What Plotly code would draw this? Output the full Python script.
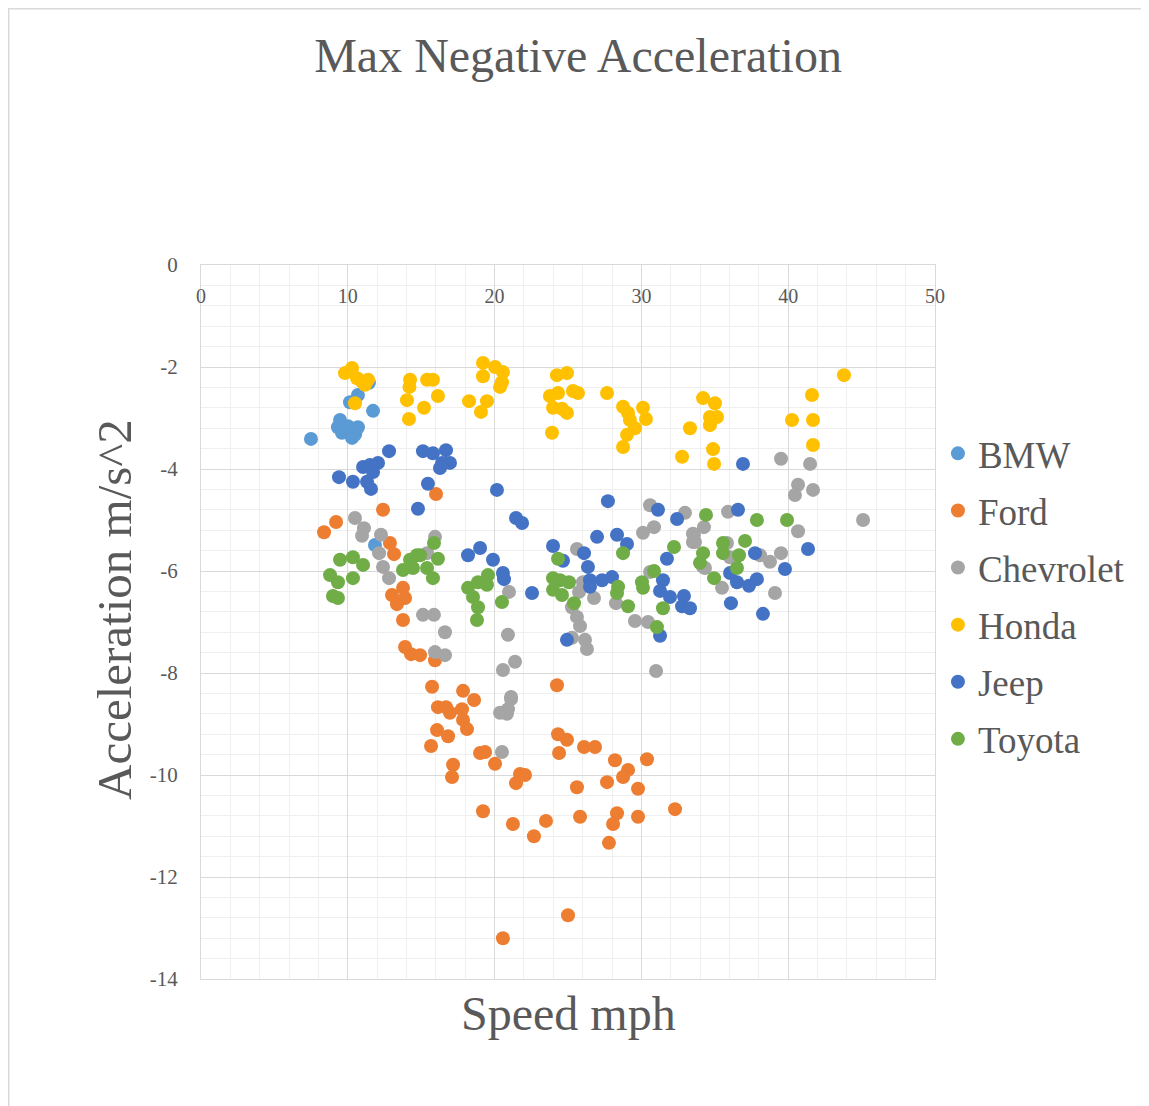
import plotly.graph_objects as go

# ---- Data (speed mph, acceleration m/s^2) ----
bmw_x = [7.49, 9.47, 9.33, 9.60, 9.81, 10.35, 10.69, 10.29, 10.01, 10.15, 10.69, 11.44, 11.72, 11.85, 10.5]
bmw_y = [-3.41, -3.04, -3.18, -3.29, -3.27, -3.24, -3.18, -3.39, -3.16, -2.69, -2.55, -2.31, -2.86, -5.49, -3.32]

ford_x = [8.38, 9.20, 12.40, 16.01, 12.87, 13.15, 13.76, 13.01, 13.90, 13.35, 13.76, 13.90, 14.31, 14.92, 15.94,
          15.74, 17.85, 18.60, 16.14, 16.69, 17.78, 16.96, 17.85, 18.12, 16.08, 16.83, 15.67, 17.17, 17.10,
          19.01, 19.35, 20.03, 21.73, 22.07, 21.46, 24.25, 24.32, 24.93, 24.39, 25.61, 25.82, 19.21, 21.25,
          22.68, 23.50, 25.00, 20.57, 26.09, 26.84, 28.20, 30.38, 29.09, 28.75, 27.66, 29.77, 28.34, 28.07,
          29.77, 32.29, 27.79]
ford_y = [-5.24, -5.04, -4.80, -4.49, -5.45, -5.67, -6.33, -6.47, -6.53, -6.65, -6.96, -7.49, -7.63, -7.65, -7.75,
          -8.27, -8.35, -8.53, -8.67, -8.67, -8.71, -8.78, -8.92, -9.10, -9.12, -9.24, -9.43, -9.80, -10.04,
          -9.57, -9.55, -9.78, -9.98, -10.00, -10.16, -8.24, -9.20, -9.31, -9.57, -10.24, -10.82, -10.71, -10.96,
          -11.20, -10.90, -12.75, -13.20, -9.45, -9.45, -9.71, -9.69, -9.90, -10.04, -10.14, -10.27, -10.75, -10.96,
          -10.82, -10.67, -11.33]

chevrolet_x = [10.49, 11.10, 10.97, 12.26, 12.13, 12.40, 12.81, 15.94, 15.40, 15.12, 15.87, 16.62, 15.94, 16.62,
               20.98, 20.91, 21.39, 20.57, 21.12, 21.12, 20.91, 20.37, 20.84, 20.50,
               25.61, 26.02, 25.75, 26.77, 25.27, 25.61, 25.82, 25.27, 26.16, 26.29, 28.27, 29.56, 30.45,
               30.11, 30.86, 33.51, 33.51, 34.20, 30.59, 31.00, 30.59,
               32.97, 34.26, 33.58, 33.65, 35.90, 35.83, 34.33, 36.04, 38.08, 38.76, 39.51, 35.49, 39.10,
               40.67, 45.10, 39.51, 41.49, 40.67, 40.46, 41.69]
chevrolet_y = [-4.96, -5.16, -5.31, -5.29, -5.65, -5.92, -6.14, -5.33, -5.65, -6.86, -6.86, -7.20, -7.59, -7.65,
               -6.41, -7.25, -7.78, -7.94, -8.47, -8.51, -8.71, -8.78, -8.80, -9.55,
               -5.57, -6.22, -6.41, -6.53, -6.71, -6.90, -7.08, -7.31, -7.35, -7.53, -6.63, -6.98, -7.00,
               -5.25, -5.14, -5.27, -5.43, -5.92, -6.02, -7.96, -4.71,
               -4.86, -5.14, -5.29, -5.43, -4.84, -5.45, -5.94, -5.73, -5.69, -5.82, -5.65, -6.33, -6.43,
               -5.22, -5.00, -3.80, -3.90, -4.31, -4.51, -4.41]

honda_x = [9.81, 10.29, 10.63, 10.97, 11.38, 11.17, 10.49,
           14.24, 14.03, 14.17, 15.19, 15.40, 15.80, 16.14, 14.20,
           19.21, 20.03, 20.57, 19.21, 20.37, 18.26, 19.48, 19.07, 20.50,
           24.25, 24.93, 23.77, 24.32, 25.34, 25.68, 23.98, 24.93, 24.59, 23.91,
           27.66, 28.75, 29.09, 29.22, 29.56, 29.02, 28.75, 30.11, 30.31,
           34.20, 35.01, 34.67, 35.15, 34.67, 33.31, 32.77, 34.88, 34.95,
           41.62, 40.26, 41.69, 41.69, 43.80]
honda_y = [-2.12, -2.02, -2.22, -2.29, -2.25, -2.35, -2.71,
           -2.25, -2.65, -3.02, -2.80, -2.25, -2.25, -2.57, -2.39,
           -1.92, -2.00, -2.10, -2.18, -2.39, -2.67, -2.67, -2.88, -2.30,
           -2.16, -2.12, -2.57, -2.51, -2.47, -2.51, -2.80, -2.90, -2.82, -3.29,
           -2.51, -2.78, -2.90, -3.04, -3.20, -3.33, -3.57, -2.80, -3.02,
           -2.61, -2.71, -2.98, -2.98, -3.14, -3.20, -3.76, -3.61, -3.90,
           -2.55, -3.04, -3.04, -3.53, -2.16]

jeep_x = [12.81, 9.40, 10.35, 11.04, 11.51, 12.06, 11.72, 11.31, 11.58,
          15.12, 15.80, 16.69, 16.96, 16.28, 16.42, 15.46, 14.78,
          20.16, 21.46, 21.87, 18.19, 19.01, 19.89, 20.57, 20.64, 22.55,
          23.98, 24.66, 26.09, 26.36, 26.98, 28.34, 29.02, 26.50, 26.50, 27.32, 28.00, 24.93,
          31.74, 31.47, 31.27, 31.95, 32.90, 32.77, 33.31, 31.27,
          27.72, 31.13, 32.43, 36.92, 36.58,
          37.74, 41.35, 39.78, 36.04, 36.51, 37.33, 37.87, 36.10, 38.28]
jeep_y = [-3.65, -4.16, -4.25, -3.96, -3.92, -3.88, -4.06, -4.25, -4.39,
          -3.65, -3.69, -3.63, -3.88, -3.98, -3.88, -4.29, -4.78,
          -4.41, -4.96, -5.06, -5.69, -5.55, -5.78, -6.04, -6.16, -6.43,
          -5.51, -5.80, -5.65, -5.92, -5.33, -5.29, -5.47, -6.18, -6.31, -6.18, -6.12, -7.35,
          -5.76, -6.18, -6.39, -6.51, -6.49, -6.69, -6.73, -7.27,
          -4.63, -4.80, -4.98, -3.90, -4.80,
          -5.65, -5.57, -5.96, -6.04, -6.22, -6.29, -6.16, -6.63, -6.84]

toyota_x = [9.47, 10.35, 11.04, 10.35, 8.79, 9.33, 8.99, 9.33,
            15.87, 16.14, 14.71, 14.24, 13.76, 15.40, 15.80, 14.44, 14.92,
            18.19, 18.87, 19.55, 19.48, 18.53, 18.87, 20.50, 18.80,
            24.32, 23.98, 24.46, 25.07, 23.98, 24.59, 25.41, 28.41, 28.34, 29.09, 28.75,
            30.04, 30.11, 30.86, 31.47, 31.06, 32.22,
            34.40, 37.87, 39.92, 35.56, 37.06, 34.20, 35.56, 36.65, 33.99, 36.51, 34.95]
toyota_y = [-5.78, -5.73, -5.88, -6.14, -6.08, -6.22, -6.49, -6.53,
            -5.45, -5.76, -5.69, -5.78, -5.98, -5.94, -6.14, -5.94, -5.69,
            -6.33, -6.22, -6.08, -6.27, -6.51, -6.71, -6.61, -6.96,
            -5.76, -6.14, -6.18, -6.22, -6.37, -6.47, -6.63, -6.31, -6.43, -6.69, -5.65,
            -6.22, -6.33, -6.00, -6.73, -7.10, -5.53,
            -4.90, -5.00, -5.00, -5.45, -5.41, -5.65, -5.65, -5.69, -5.84, -5.94, -6.14]

x_ticks = [0, 10, 20, 30, 40, 50]
x_tick_labels = ["0", "10", "20", "30", "40", "50"]
y_ticks = [0, -2, -4, -6, -8, -10, -12, -14]
y_tick_labels = ["0", "-2", "-4", "-6", "-8", "-10", "-12", "-14"]

series = [
    ("BMW", bmw_x, bmw_y, "#5B9BD5"),
    ("Ford", ford_x, ford_y, "#ED7D31"),
    ("Chevrolet", chevrolet_x, chevrolet_y, "#A5A5A5"),
    ("Honda", honda_x, honda_y, "#FFC000"),
    ("Jeep", jeep_x, jeep_y, "#4472C4"),
    ("Toyota", toyota_x, toyota_y, "#70AD47"),
]

FONT = "Liberation Serif, Times New Roman, serif"
TXT = "#595959"

fig = go.Figure()
for name, xs, ys, color in series:
    fig.add_trace(go.Scatter(
        x=xs, y=ys, mode="markers", name=name, legendgroup=name,
        marker=dict(size=14, color=color, line=dict(width=0)),
    ))

fig.update_layout(
    width=1141, height=1098,
    margin=dict(l=193, r=214, t=257, b=127),
    paper_bgcolor="white", plot_bgcolor="white",
    font=dict(family=FONT, color=TXT),
    title=dict(text="Max Negative Acceleration", x=0.4996, xanchor="center",
               y=0.957, yanchor="middle",
               font=dict(family=FONT, size=48, color=TXT)),
    legend=dict(x=1.004, xanchor="left", y=0.536, yanchor="middle",
                font=dict(family=FONT, size=37, color=TXT),
                tracegroupgap=6, itemwidth=30,
                bgcolor="rgba(0,0,0,0)"),
    showlegend=True,
)

fig.update_xaxes(
    range=[0, 50], tickvals=x_ticks, ticktext=x_tick_labels,
    side="top", ticklabelposition="outside", ticklabelstandoff=-47,
    showgrid=True, gridcolor="#D9D9D9", gridwidth=1,
    minor=dict(dtick=2, showgrid=True, gridcolor="#EFEFEF", gridwidth=1),
    showline=True, linecolor="#D9D9D9", linewidth=1, mirror=True,
    zeroline=False, ticks="",
    tickfont=dict(family=FONT, size=20, color=TXT),
)
fig.update_yaxes(
    range=[-14, 0], tickvals=y_ticks, ticktext=y_tick_labels,
    showgrid=True, gridcolor="#D9D9D9", gridwidth=1,
    minor=dict(dtick=0.4, showgrid=True, gridcolor="#EFEFEF", gridwidth=1),
    showline=True, linecolor="#D9D9D9", linewidth=1, mirror=True,
    zeroline=False, ticks="",
    tickfont=dict(family=FONT, size=21, color=TXT),
    ticklabelstandoff=18,
)

fig.add_annotation(text="Speed mph", xref="paper", yref="paper", x=0.5, y=-0.048,
                   xanchor="center", yanchor="middle", showarrow=False,
                   font=dict(family=FONT, size=48, color=TXT))
fig.add_annotation(text="Acceleration m/s^2", xref="paper", yref="paper", x=-0.117, y=0.517,
                   xanchor="center", yanchor="middle", textangle=-90, showarrow=False,
                   font=dict(family=FONT, size=49, color=TXT))

# outer chart border
fig.add_shape(type="rect", xref="paper", yref="paper",
              x0=-0.262, x1=1.6, y0=-0.4, y1=1.359,
              line=dict(color="#D9D9D9", width=1.5), fillcolor="rgba(0,0,0,0)", layer="below")

fig.write_html("out.html")
